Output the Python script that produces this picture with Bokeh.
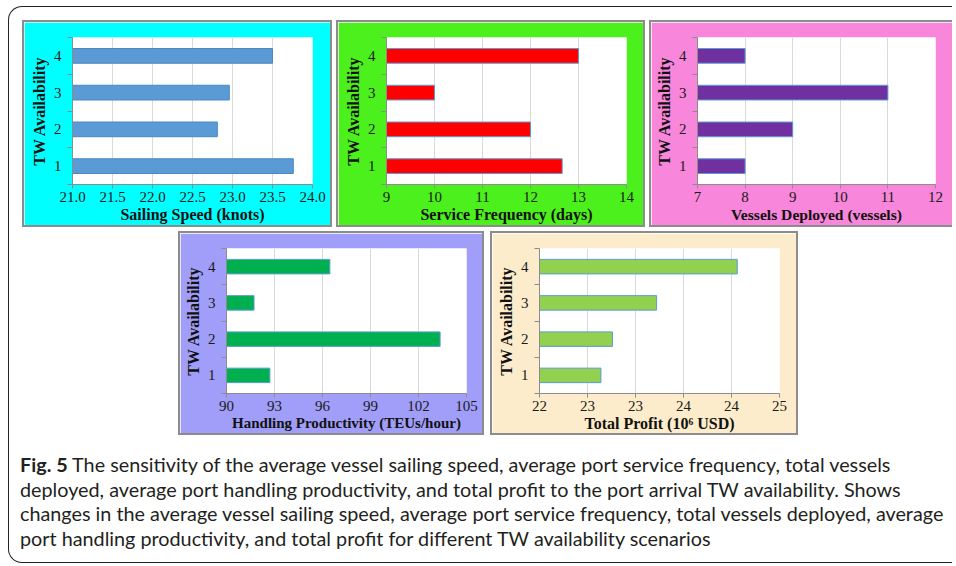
from bokeh.plotting import figure
from bokeh.models import FixedTicker, Range1d, Div, Spacer
from bokeh.layouts import row, column
from bokeh.embed import file_html
from bokeh.resources import INLINE

# ---- data ----
tw = [1, 2, 3, 4]
tw_labels = ["1", "2", "3", "4"]

speed = [23.76, 22.81, 22.96, 23.50]
speed_ticks = [21.0, 21.5, 22.0, 22.5, 23.0, 23.5, 24.0]
speed_tick_labels = ["21.0", "21.5", "22.0", "22.5", "23.0", "23.5", "24.0"]

freq = [12.66, 12.0, 10.0, 13.0]
freq_ticks = [9, 10, 11, 12, 13, 14]
freq_tick_labels = ["9", "10", "11", "12", "13", "14"]

vessels = [8, 9, 11, 8]
vessel_ticks = [7, 8, 9, 10, 11, 12]
vessel_tick_labels = ["7", "8", "9", "10", "11", "12"]

prod = [92.71, 103.35, 91.72, 96.46]
prod_ticks = [90, 93, 96, 99, 102, 105]
prod_tick_labels = ["90", "93", "96", "99", "102", "105"]

profit = [22.64, 22.76, 23.22, 24.06]
profit_ticks = [22.0, 22.5, 23.0, 23.5, 24.0, 24.5]
profit_tick_labels = ["22", "23", "23", "24", "24", "25"]

SERIF = "Liberation Serif"


def make_panel(values, ticks, tick_labels, xtitle, fill, line, bg,
               left, right, top, bottom, fh, title_size="16px", open_right=False):
    p = figure(frame_width=236, frame_height=fh,
               x_range=Range1d(ticks[0], ticks[-1]),
               y_range=Range1d(0.5, 4.5),
               output_backend="svg", toolbar_location=None,
               min_border_left=left, min_border_right=right,
               min_border_top=top, min_border_bottom=bottom)
    p.hbar(y=tw, left=ticks[0], right=values, height=0.4,
           fill_color=fill, line_color=line, line_width=1)
    p.background_fill_color = "white"
    p.border_fill_color = bg
    p.outline_line_color = None
    p.ygrid.grid_line_color = None
    p.xgrid.grid_line_color = "#d9d9d9"
    p.xgrid.ticker = FixedTicker(ticks=ticks)

    xa = p.xaxis[0]
    xa.ticker = FixedTicker(ticks=ticks)
    xa.major_label_overrides = {t: l for t, l in zip(ticks, tick_labels)}
    xa.axis_label = xtitle
    ya = p.yaxis[0]
    ya.ticker = FixedTicker(ticks=tw, minor_ticks=[0.5, 1.5, 2.5, 3.5, 4.5])
    ya.major_label_overrides = {t: l for t, l in zip(tw, tw_labels)}
    ya.axis_label = "TW Availability"

    for ax in (xa, ya):
        ax.axis_line_color = "#8c8c8c"
        ax.major_tick_line_color = "#8c8c8c"
        ax.minor_tick_line_color = "#8c8c8c"
        ax.major_label_text_font = SERIF
        ax.major_label_text_font_size = "15px"
        ax.major_label_text_color = "#1a1a1a"
        ax.axis_label_text_font = SERIF
        ax.axis_label_text_font_style = "bold"
        ax.axis_label_text_color = "#111111"
    xa.axis_label_text_font_size = title_size
    ya.axis_label_text_font_size = "16px"
    xa.major_tick_out = 4
    xa.major_tick_in = 0
    xa.minor_tick_out = 0
    xa.minor_tick_in = 0
    xa.major_label_standoff = 3
    xa.axis_label_standoff = 1
    ya.major_tick_out = 0
    ya.major_tick_in = 0
    ya.minor_tick_out = 5
    ya.minor_tick_in = 0
    ya.major_label_standoff = 6
    ya.axis_label_standoff = 3
    st = {"border": "2px solid #8c8c8c"}
    if open_right:
        st["border-right"] = "none"
    p.styles = st
    return p


p1 = make_panel(speed, speed_ticks, speed_tick_labels, "Sailing Speed (knots)",
                "#5b9bd5", "#4a86c2", "#00ffff", 48, 22, 15, 45, 143)
p2 = make_panel(freq, freq_ticks, freq_tick_labels, "Service Frequency (days)",
                "#ff0000", "#5b9bd5", "#4cf01c", 48, 21, 15, 45, 143)
p3 = make_panel(vessels, vessel_ticks, vessel_tick_labels, "Vessels Deployed (vessels)",
                "#7030a0", "#5b9bd5", "#f886da", 46, 19, 15, 45, 143,
                title_size="15.6px", open_right=True)
p4 = make_panel(prod, prod_ticks, prod_tick_labels, "Handling Productivity (TEUs/hour)",
                "#00b050", "#5b9bd5", "#a09ef8", 46, 20, 15, 44, 141, title_size="15px")
p5 = make_panel(profit, profit_ticks, profit_tick_labels, "Total Profit (10\u2076 USD)",
                "#92d050", "#5b9bd5", "#fdeccb", 47, 21, 15, 44, 141)

caption_html = (
    '<div style="font-family: Lato, sans-serif; font-size: 19.8px; line-height: 24.7px; color: #231f20; white-space: nowrap;">'
    '<b>Fig. 5</b> The sensitivity of the average vessel sailing speed, average port service frequency, total vessels<br>'
    'deployed, average port handling productivity, and total profit to the port arrival TW availability. Shows<br>'
    'changes in the average vessel sailing speed, average port service frequency, total vessels deployed, average<br>'
    'port handling productivity, and total profit for different TW availability scenarios'
    '</div>'
)
caption = Div(text=caption_html, width=930, height=110, margin=(17, 0, 0, 11))

top_row = row(Spacer(width=13), p1, Spacer(width=4), p2, Spacer(width=4), p3)
bottom_row = row(Spacer(width=169), p4, Spacer(width=6), p5)
layout = column(Spacer(height=13), top_row, Spacer(height=4), bottom_row, caption,
                margin=(6, 0, 0, 8),
                styles={"border": "1.5px solid #222", "border-right": "none",
                        "border-radius": "14px 0 0 14px"})

open("out.html", "w").write(file_html(layout, INLINE))
